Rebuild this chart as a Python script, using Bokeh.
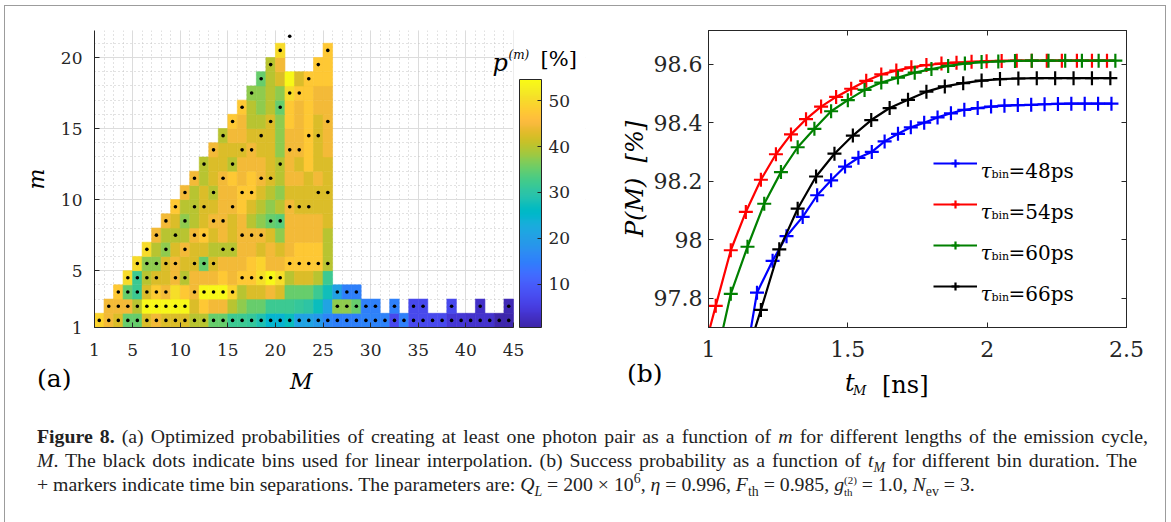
from bokeh.plotting import figure
from bokeh.models import (ColumnDataSource, LinearColorMapper, ColorBar, FixedTicker, Range1d,
                          LinearAxis, Label, Legend, LegendItem, Div, BoxAnnotation)
from bokeh.layouts import row, column
from bokeh.transform import transform
from bokeh.core.properties import value
from bokeh.embed import file_html
from bokeh.resources import INLINE

# ---------------- data: panel (a) ----------------
# optimized probabilities p^(m) [%]; row m starts at M = m (None = empty bin)
p_m01 = [49, 44.5, 42.5, 35, 35, 42.5, 44.5, 42.5, 42.5, 42.5, 40, 40, 35, 35, 32, 32, 31, 28.5, 25, 24.5,
         27, 21, 21, 19, 16, 15, 15, 15, 15.5, 15.5, 15.5, 7, 15, 7, 7, 7, 7, 4, 4, 3.5, 3.5, 3.5, 1, 1]
p_m02 = [44.5, 44.5, 44.5, 40, 54, 54, 54, 54, 54, 42.5, 47.5, 44.5, 44.5, 40, 37.5, 35, 35, 32, 32, 32,
         31, 30, 27, 21, 37.5, 37.5, 35, 15, 15, None, 15, None, 7, 7, None, None, 7, None, None, 3, None, None, 1.5]
p_m03 = [47.5, 35, 32, 42.5, 48, 44.5, 50.5, 47.5, 44.5, 54, 54, 54, 49, 40, 42.5, 42.5, 44.5, 42.5, 35, 35,
         35, 32, 27.5, 20.5, 15, 15]
p_m04 = [50, 32, 40, 42.5, 42.5, 44.5, 40, 44.5, 44.5, 44.5, 47.5, 44.5, 47.5, 47.5, 50.5, 54, 50.5, 40, 42.5, 42.5, 40, 32]
p_m05 = [50, 37.5, 37.5, 42.5, 44.5, 42.5, 42.5, 35, 42.5, 44.5, 44.5, 44.5, 47.5, 49, 44.5, 44.5, 47.5, 47.5, 47.5, 47.5, 40]
p_m06 = [50, 40, 37.5, 42.5, 44.5, 42.5, 42.5, 40, 40, 40, 44.5, 44.5, 42.5, 44.5, 42.5, 44.5, 47.5, 47.5, 47.5, 40]
p_m07 = [44.5, 40, 40, 40, 44.5, 47.5, 42.5, 44.5, 42.5, 44.5, 44.5, 44.5, 42.5, 37.5, 44.5, 44.5, 44.5, 44.5, 40]
p_m08 = [44.5, 42.5, 37.5, 40, 42.5, 44.5, 44.5, 42.5, 44.5, 40, 37.5, 35, 34, 44.5, 44.5, 44.5, 44.5, 42.5]
p_m09 = [47.5, 40, 40, 42.5, 42.5, 44.5, 44.5, 47.5, 42.5, 40, 37.5, 40, 44.5, 42.5, 42.5, 42.5, 42.5]
p_m10 = [44.5, 40, 42.5, 40, 44.5, 44.5, 47.5, 47.5, 42.5, 40, 37.5, 42.5, 42.5, 42.5, 42.5, 42.5]
p_m11 = [44.5, 40, 42.5, 44.5, 47.5, 44.5, 47.5, 44.5, 42.5, 40, 44.5, 44.5, 42.5, 44.5, 42.5]
p_m12 = [40, 42.5, 42.5, 40, 44.5, 44.5, 44.5, 42.5, 40, 44.5, 42.5, 47.5, 42.5, 42.5]
p_m13 = [44.5, 42.5, 42.5, 42.5, 44.5, 42.5, 42.5, 37.5, 44.5, 44.5, 47.5, 42.5, 44.5]
p_m14 = [40, 44.5, 44.5, 42.5, 42.5, 42.5, 37.5, 44.5, 44.5, 47.5, 42.5, 44.5]
p_m15 = [47.5, 44.5, 40, 40, 42.5, 37.5, 47.5, 44.5, 47.5, 42.5, 44.5]
p_m16 = [47.5, 40, 37.5, 40, 35, 47.5, 44.5, 47.5, 44.5, 44.5]
p_m17 = [37.5, 37.5, 40, 37.5, 50, 47.5, 47.5, 44.5, 44.5]
p_m18 = [35, 40, 42.5, 54, 42.5, 47.5, 47.5, 47.5]
p_m19 = [40, 44.5, None, None, None, 47.5, 47.5]
p_m20 = [50, None, None, None, None, 47.5]

# bins used for linear interpolation (values of M for each m)
dots_m01 = [1, 2, 3, 4, 5, 6, 7, 8, 9, 10, 11, 12, 13, 14, 15, 16, 17, 18, 19, 20, 21, 22,
            23, 24, 25, 26, 27, 28, 29, 30, 31, 32, 33, 34, 35, 36, 37, 38, 39, 40, 41, 42, 43, 44]
dots_m02 = [2, 3, 4, 5, 6, 7, 8, 9, 10, 26, 27, 28, 29, 30, 32, 34, 35, 38, 41, 44]
dots_m03 = [3, 4, 5, 6, 7, 8, 11, 12, 13, 14, 15, 26, 27, 28]
dots_m04 = [4, 5, 6, 7, 9, 10, 16, 17, 18, 19, 20]
dots_m05 = [5, 6, 7, 8, 9, 11, 12, 13, 21, 22, 23, 24, 25]
dots_m06 = [6, 8, 10, 14, 15]
dots_m07 = [7, 9, 11, 12, 16, 17, 18]
dots_m08 = [8, 10, 13, 14, 19, 20]
dots_m09 = [9, 11, 12, 15, 21, 22, 23]
dots_m10 = [10, 13, 16, 17, 24, 25]
dots_m11 = [11, 14, 18, 19]
dots_m12 = [12, 15, 20]
dots_m13 = [13, 16, 17, 21, 22]
dots_m14 = [14, 18, 23, 24]
dots_m15 = [15, 19, 25]
dots_m16 = [16, 20]
dots_m17 = [17, 21, 22]
dots_m18 = [18, 23]
dots_m19 = [19, 24]
dots_m20 = [20, 25]
dots_m21 = [21]

x_ticks_a = [1, 5, 10, 15, 20, 25, 30, 35, 40, 45]
y_ticks_a = [1, 5, 10, 15, 20]
cbar_ticks = [10, 20, 30, 40, 50]

# ---------------- data: panel (b) ----------------
t_48 = [1.128, 1.174, 1.230, 1.280, 1.338, 1.390, 1.440, 1.490, 1.538, 1.586, 1.632, 1.680, 1.726, 1.774,
        1.822, 1.870, 1.918, 1.966, 2.014, 2.062, 2.110, 2.158, 2.206, 2.254, 2.302, 2.350, 2.398, 2.446]
P_48 = [97.56, 97.819, 97.928, 98.012, 98.078, 98.152, 98.203, 98.250, 98.280, 98.300, 98.336, 98.362, 98.384, 98.400,
        98.418, 98.432, 98.444, 98.450, 98.455, 98.458, 98.460, 98.461, 98.463, 98.464, 98.465, 98.465, 98.465, 98.465]
t_54 = [0.972, 1.026, 1.080, 1.134, 1.188, 1.242, 1.296, 1.350, 1.404, 1.458, 1.512, 1.566, 1.620, 1.674,
        1.728, 1.782, 1.836, 1.890, 1.944, 1.998, 2.052, 2.106, 2.160, 2.214, 2.268, 2.322, 2.376, 2.430]
P_54 = [97.58, 97.774, 97.964, 98.095, 98.205, 98.292, 98.360, 98.412, 98.455, 98.488, 98.516, 98.543, 98.565, 98.578,
        98.589, 98.597, 98.602, 98.605, 98.608, 98.610, 98.611, 98.612, 98.612, 98.612, 98.612, 98.612, 98.612, 98.612]
t_60 = [1.020, 1.080, 1.140, 1.200, 1.260, 1.320, 1.380, 1.440, 1.500, 1.560, 1.620, 1.680, 1.740, 1.800,
        1.860, 1.920, 1.980, 2.040, 2.100, 2.160, 2.220, 2.280, 2.340, 2.400, 2.460]
P_60 = [97.56, 97.815, 97.976, 98.123, 98.231, 98.316, 98.379, 98.439, 98.477, 98.512, 98.537, 98.554, 98.571, 98.583,
        98.594, 98.602, 98.607, 98.609, 98.611, 98.612, 98.612, 98.612, 98.612, 98.612, 98.612]
t_66 = [1.122, 1.188, 1.254, 1.320, 1.386, 1.452, 1.518, 1.584, 1.650, 1.716, 1.782, 1.848, 1.914, 1.980,
        2.046, 2.112, 2.178, 2.244, 2.310, 2.376, 2.442]
P_66 = [97.56, 97.760, 97.967, 98.106, 98.216, 98.294, 98.356, 98.409, 98.450, 98.478, 98.506, 98.524, 98.535, 98.544,
        98.549, 98.551, 98.552, 98.552, 98.552, 98.552, 98.552]
series_labels = ["=48ps", "=54ps", "=60ps", "=66ps"]
series_colors = ["#0000ff", "#ff0000", "#008000", "#000000"]
x_ticks_b = [1, 1.5, 2, 2.5]
y_ticks_b = [97.8, 98, 98.2, 98.4, 98.6]

# ---------------- parula colormap ----------------
parula64 = [
    (0.2422, 0.1504, 0.6603), (0.2504, 0.1650, 0.7076), (0.2578, 0.1818, 0.7511), (0.2647, 0.1978, 0.7952),
    (0.2706, 0.2147, 0.8364), (0.2751, 0.2342, 0.8710), (0.2783, 0.2559, 0.8991), (0.2803, 0.2782, 0.9221),
    (0.2813, 0.3006, 0.9414), (0.2810, 0.3228, 0.9579), (0.2795, 0.3447, 0.9717), (0.2760, 0.3667, 0.9829),
    (0.2699, 0.3892, 0.9906), (0.2602, 0.4123, 0.9952), (0.2440, 0.4358, 0.9988), (0.2206, 0.4603, 0.9973),
    (0.1963, 0.4847, 0.9892), (0.1834, 0.5074, 0.9798), (0.1786, 0.5289, 0.9682), (0.1764, 0.5499, 0.9520),
    (0.1687, 0.5703, 0.9359), (0.1540, 0.5902, 0.9218), (0.1460, 0.6091, 0.9079), (0.1380, 0.6276, 0.8973),
    (0.1248, 0.6459, 0.8883), (0.1113, 0.6635, 0.8763), (0.0952, 0.6798, 0.8598), (0.0689, 0.6948, 0.8394),
    (0.0297, 0.7082, 0.8163), (0.0036, 0.7203, 0.7917), (0.0067, 0.7312, 0.7660), (0.0433, 0.7411, 0.7394),
    (0.0964, 0.7500, 0.7120), (0.1408, 0.7584, 0.6842), (0.1717, 0.7670, 0.6554), (0.1938, 0.7758, 0.6251),
    (0.2161, 0.7843, 0.5923), (0.2470, 0.7918, 0.5567), (0.2906, 0.7973, 0.5188), (0.3406, 0.8008, 0.4789),
    (0.3909, 0.8029, 0.4354), (0.4456, 0.8024, 0.3909), (0.5044, 0.7993, 0.3480), (0.5616, 0.7942, 0.3045),
    (0.6174, 0.7876, 0.2612), (0.6720, 0.7793, 0.2227), (0.7242, 0.7698, 0.1910), (0.7738, 0.7598, 0.1646),
    (0.8203, 0.7498, 0.1535), (0.8634, 0.7406, 0.1596), (0.9035, 0.7330, 0.1774), (0.9393, 0.7288, 0.2100),
    (0.9728, 0.7298, 0.2394), (0.9956, 0.7434, 0.2371), (0.9970, 0.7659, 0.2199), (0.9952, 0.7893, 0.2028),
    (0.9892, 0.8136, 0.1885), (0.9786, 0.8386, 0.1766), (0.9676, 0.8639, 0.1643), (0.9610, 0.8890, 0.1537),
    (0.9597, 0.9135, 0.1423), (0.9628, 0.9373, 0.1265), (0.9691, 0.9606, 0.1064), (0.9769, 0.9839, 0.0805)]


def make_palette(n=256):
    out = []
    for i in range(n):
        f = i / (n - 1) * 63
        k = min(int(f), 62)
        w = f - k
        c = [parula64[k][j] * (1 - w) + parula64[k + 1][j] * w for j in range(3)]
        out.append("#%02x%02x%02x" % tuple(int(round(v * 255)) for v in c))
    return out


palette = make_palette()
mapper = LinearColorMapper(palette=palette, low=0.6, high=54.6)

TICK_FONT = "DejaVu Serif"
AX_COL = "#262626"


def lab(p, x, y, text, size, style="normal", baseline="alphabetic"):
    p.add_layout(Label(x=x, y=y, text=text, text_font=TICK_FONT, text_font_style=style,
                       text_font_size=size, text_baseline=baseline, text_color="black"))


# ---------------- panel (a) ----------------
rows_a = [p_m01, p_m02, p_m03, p_m04, p_m05, p_m06, p_m07, p_m08, p_m09, p_m10,
          p_m11, p_m12, p_m13, p_m14, p_m15, p_m16, p_m17, p_m18, p_m19, p_m20]
cl, cr, cb, ct, cv = [], [], [], [], []
for m, vals in enumerate(rows_a, start=1):
    for k, v in enumerate(vals):
        if v is None:
            continue
        M = m + k
        cl.append(M); cr.append(M + 1); cb.append(m); ct.append(m + 1); cv.append(v)
cell_src = ColumnDataSource(dict(left=cl, right=cr, bottom=cb, top=ct, val=cv))

dots_all = [dots_m01, dots_m02, dots_m03, dots_m04, dots_m05, dots_m06, dots_m07, dots_m08, dots_m09, dots_m10,
            dots_m11, dots_m12, dots_m13, dots_m14, dots_m15, dots_m16, dots_m17, dots_m18, dots_m19, dots_m20, dots_m21]
dx, dy = [], []
for m, Ms in enumerate(dots_all, start=1):
    for M in Ms:
        dx.append(M + 0.5); dy.append(m + 0.5)
dot_src = ColumnDataSource(dict(x=dx, y=dy))

# frame spans x 94..585 px: data 1..45 occupy 94..513, the colour bar sits to the right
pa = figure(width=600, height=366, x_range=Range1d(1, 52.56), y_range=Range1d(1, 21.9),
            output_backend="svg", toolbar_location=None,
            min_border_left=94, min_border_right=15, min_border_top=30, min_border_bottom=38)
pa.outline_line_color = None
pa.xaxis.ticker = FixedTicker(ticks=x_ticks_a, minor_ticks=list(range(1, 46)))
pa.yaxis.ticker = FixedTicker(ticks=y_ticks_a, minor_ticks=list(range(1, 23)))
pa.xaxis.bounds = (1, 45)
pa.xgrid.bounds = (1, 45)
for g in (pa.xgrid, pa.ygrid):
    g.grid_line_color = "#dcdcdc"
    g.grid_line_width = 1
    g.minor_grid_line_color = "#c4c4c4"
    g.minor_grid_line_dash = "1 3"
    g.minor_grid_line_width = 1
# blank out the grid to the right of M = 45
pa.add_layout(BoxAnnotation(left=45, right=60, bottom=0, top=30, fill_color="white", fill_alpha=1,
                            line_color=None, level="underlay"))

pa.quad(left="left", right="right", bottom="bottom", top="top", source=cell_src,
        fill_color=transform("val", mapper), line_color=transform("val", mapper), line_width=0.6)
pa.scatter(x="x", y="y", source=dot_src, size=3.6, fill_color="black", line_color=None)

for ax in (pa.xaxis[0], pa.yaxis[0]):
    ax.axis_line_color = AX_COL
    ax.major_tick_line_color = AX_COL
    ax.major_tick_in = 5
    ax.major_tick_out = 0
    ax.minor_tick_line_color = None
    ax.major_label_text_font = TICK_FONT
    ax.major_label_text_font_size = "17px"
    ax.major_label_text_color = AX_COL
    ax.axis_label_text_font = TICK_FONT
    ax.axis_label_text_font_style = "italic"
    ax.axis_label_text_font_size = "22px"
    ax.axis_label_text_color = "#000000"
pa.xaxis.major_label_standoff = 12
pa.yaxis.axis_label = "m"
pa.yaxis.major_label_standoff = 8
pa.yaxis.axis_label_standoff = 9

cbar = ColorBar(color_mapper=mapper, ticker=FixedTicker(ticks=cbar_ticks), width=22, height=248,
                location=(425, 0), padding=0, margin=0,
                bar_line_color=AX_COL, major_tick_line_color=AX_COL, major_tick_in=4, major_tick_out=0,
                minor_tick_line_color=None,
                major_label_text_font=TICK_FONT, major_label_text_font_size="17px",
                major_label_text_color=AX_COL, label_standoff=7,
                background_fill_color=None, border_line_color=None)
pa.add_layout(cbar)

lab(pa, 42.79, 19.59, "p", "24px", "italic")
lab(pa, 44.47, 20.15, "(m)", "12px", "italic")
lab(pa, 47.84, 19.87, "[%]", "21px")

# ---------------- panel (b) ----------------
pb = figure(width=570, height=366, x_range=Range1d(1, 2.5), y_range=Range1d(97.7, 98.715),
            output_backend="svg", toolbar_location=None,
            min_border_left=108, min_border_right=44, min_border_top=29, min_border_bottom=39)
pb.grid.visible = False
pb.outline_line_color = AX_COL

series = [(t_48, P_48), (t_54, P_54), (t_60, P_60), (t_66, P_66)]
items = []
for (tt, PP), col in zip(series, series_colors):
    src = ColumnDataSource(dict(t=tt, P=PP))
    lr = pb.line(x="t", y="P", source=src, line_color=col, line_width=2.2)
    sr = pb.scatter(x="t", y="P", source=src, marker="cross", size=14, line_color=col, line_width=2.2)
    items.append(LegendItem(label=value(" "), renderers=[lr, sr]))

legend = Legend(items=items, location=(225, 31), orientation="vertical",
                glyph_width=44, glyph_height=20, label_height=20, label_width=1, spacing=21,
                padding=0, margin=0, border_line_color=None, background_fill_alpha=0,
                label_text_font_size="6px", label_standoff=0)
pb.add_layout(legend)

pb.xaxis.ticker = FixedTicker(ticks=x_ticks_b)
pb.yaxis.ticker = FixedTicker(ticks=y_ticks_b)
pb.xaxis.major_label_overrides = {1: "1", 1.5: "1.5", 2: "2", 2.5: "2.5"}
pb.yaxis.major_label_overrides = {97.8: "97.8", 98: "98", 98.2: "98.2", 98.4: "98.4", 98.6: "98.6"}
for ax in (pb.xaxis[0], pb.yaxis[0]):
    ax.axis_line_color = AX_COL
    ax.major_tick_line_color = AX_COL
    ax.major_tick_in = 5
    ax.major_tick_out = 0
    ax.minor_tick_line_color = None
    ax.major_label_text_font = TICK_FONT
    ax.major_label_text_font_size = "22px"
    ax.major_label_text_color = AX_COL
pb.xaxis.major_label_standoff = 13
pb.yaxis.major_label_standoff = 6
pb.yaxis.axis_label = "P(M)\u00a0\u00a0[%]"
pb.yaxis.axis_label_text_font = TICK_FONT
pb.yaxis.axis_label_text_font_style = "italic"
pb.yaxis.axis_label_text_font_size = "24px"
pb.yaxis.axis_label_text_color = "#000000"
pb.yaxis.axis_label_standoff = 2

for ticks, side in ((x_ticks_b, "above"), (y_ticks_b, "right")):
    mirror = LinearAxis(ticker=FixedTicker(ticks=ticks), major_label_text_font_size="1px",
                        major_label_text_color=None, major_label_standoff=0,
                        axis_line_color=AX_COL, major_tick_line_color=AX_COL,
                        major_tick_in=5, major_tick_out=0, minor_tick_line_color=None)
    pb.add_layout(mirror, side)

# legend texts: tau_bin=..ps
for i, txt in enumerate(series_labels):
    base = 98.2347 - i * 41 / 293.6
    lab(pb, 1.9761, base, "\u03c4", "20px", "italic")
    lab(pb, 2.0155, base - 3.5 / 293.6, "bin", "11px")
    lab(pb, 2.0765, base, txt, "20px")

# ---------------- axis names below the panels + caption + frame ----------------
pos = "position:absolute;line-height:0;white-space:nowrap;font-family:'DejaVu Serif';color:#000;"
sub = 'style="line-height:0;font-size:70%"'
below_html = (
    '<div style="position:relative;width:1170px;height:154px;">'
    '<div style="position:absolute;left:-1px;top:-366px;width:1162px;height:540px;'
    'border:1px solid #9c9c9c;border-bottom:none;pointer-events:none;"></div>'
    '<span style="' + pos + 'left:32px;top:8px;font-size:25px;">(a)</span>'
    '<span style="' + pos + 'left:285px;top:11px;font-size:22px;font-style:italic;">M</span>'
    '<span style="' + pos + 'left:622px;top:3px;font-size:25px;">(b)</span>'
    '<span style="' + pos + 'left:840px;top:12px;font-size:24px;font-style:italic;">t</span>'
    '<span style="' + pos + 'left:848px;top:20px;font-size:13px;font-style:italic;">M</span>'
    '<span style="' + pos + 'left:877px;top:14px;font-size:24px;">[ns]</span>'
    '<div style="position:absolute;left:32px;top:53px;font-family:\'Liberation Serif\';font-size:19.8px;'
    'line-height:24px;color:#222;white-space:nowrap;">'
    '<div style="width:1111px;text-align:justify;text-align-last:justify;">'
    '<b>Figure 8.</b> (a) Optimized probabilities of creating at least one photon pair as a function of '
    '<i>m</i> for different lengths of the emission cycle,</div>'
    '<div style="width:1100px;text-align:justify;text-align-last:justify;">'
    '<i>M</i>. The black dots indicate bins used for linear interpolation. (b) Success probability as a '
    'function of <i>t<sub ' + sub + '>M</sub></i> for different bin duration. The</div>'
    '<div>+ markers indicate time bin separations. The parameters are: <i>Q<sub ' + sub + '>L</sub></i> = 200 '
    '&times; 10<sup ' + sub + '>6</sup>, <i>&eta;</i> = 0.996, <i>F</i><sub ' + sub + '>th</sub> = 0.985, '
    '<i>g</i><span style="display:inline-block;vertical-align:-5px;line-height:12px;font-size:11px;">(2)<br>th</span>'
    ' = 1.0, <i>N</i><sub ' + sub + '>ev</sub> = 3.</div>'
    '</div>'
    '</div>'
)
below = Div(text=below_html, width=1170, height=154)

layout = column(row(pa, pb), below)
open("out.html", "w").write(file_html(layout, INLINE))
